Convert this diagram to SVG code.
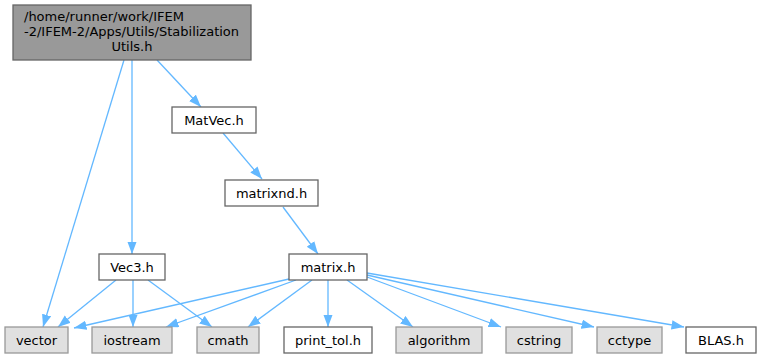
<svg xmlns="http://www.w3.org/2000/svg" width="760" height="359" viewBox="0 0 760 359">
<style>
text{font-family:"DejaVu Sans",sans-serif;font-size:13px;fill:#000}
.c{text-anchor:middle}
.top{fill:#999999;stroke:#666666;stroke-width:1.3}
.w{fill:#ffffff;stroke:#666666;stroke-width:1.3}
.g{fill:#e0e0e0;stroke:#999999;stroke-width:1.3}
.e{stroke:#63b8ff;stroke-width:1.3;fill:none;marker-end:url(#a)}
</style>
<defs>
<marker id="a" markerUnits="userSpaceOnUse" markerWidth="14" markerHeight="11" refX="12.5" refY="4.7" orient="auto">
<path d="M0,0 L12.5,4.7 L0,9.4 z" fill="#63b8ff" stroke="none"/>
</marker>
</defs>
<rect width="760" height="359" fill="#ffffff"/>
<g id="edges">
<line class="e" x1="124" y1="60" x2="43" y2="327"/>
<line class="e" x1="132" y1="60" x2="132" y2="254"/>
<line class="e" x1="157" y1="60" x2="201" y2="107"/>
<line class="e" x1="223" y1="133" x2="262" y2="179"/>
<line class="e" x1="283" y1="207" x2="318" y2="254"/>
<line class="e" x1="116" y1="280" x2="58" y2="327"/>
<line class="e" x1="133" y1="280" x2="133" y2="327"/>
<line class="e" x1="148" y1="280" x2="212" y2="327"/>
<line class="e" x1="289" y1="279" x2="74" y2="328"/>
<line class="e" x1="296" y1="280" x2="166" y2="327"/>
<line class="e" x1="312" y1="280" x2="248" y2="327"/>
<line class="e" x1="328" y1="280" x2="328" y2="327"/>
<line class="e" x1="347" y1="280" x2="413" y2="327"/>
<line class="e" x1="367" y1="277" x2="501" y2="327"/>
<line class="e" x1="367" y1="275" x2="594" y2="327"/>
<line class="e" x1="367" y1="273" x2="684" y2="327"/>
</g>
<g id="node-top">
<rect class="top" x="13" y="5" width="238" height="55"/>
<text x="24" y="21">/home/runner/work/IFEM</text>
<text x="24" y="36">-2/IFEM-2/Apps/Utils/Stabilization</text>
<text class="c" x="132" y="51">Utils.h</text>
</g>
<g id="node-matvec">
<rect class="w" x="172" y="107" width="84" height="26"/>
<text class="c" x="214" y="124.5">MatVec.h</text>
</g>
<g id="node-matrixnd">
<rect class="w" x="225" y="180" width="93" height="26"/>
<text class="c" x="271.5" y="197.5">matrixnd.h</text>
</g>
<g id="node-vec3">
<rect class="w" x="99" y="254" width="66" height="26"/>
<text class="c" x="132" y="271.5">Vec3.h</text>
</g>
<g id="node-matrix">
<rect class="w" x="289" y="254" width="78" height="26"/>
<text class="c" x="328" y="271.5">matrix.h</text>
</g>
<g id="node-vector">
<rect class="g" x="5" y="327" width="63" height="26"/>
<text class="c" x="36.5" y="344.5">vector</text>
</g>
<g id="node-iostream">
<rect class="g" x="92" y="327" width="80" height="26"/>
<text class="c" x="132" y="344.5">iostream</text>
</g>
<g id="node-cmath">
<rect class="g" x="197" y="327" width="62" height="26"/>
<text class="c" x="228" y="344.5">cmath</text>
</g>
<g id="node-printtol">
<rect class="w" x="284" y="327" width="88" height="26"/>
<text class="c" x="328" y="344.5">print_tol.h</text>
</g>
<g id="node-algorithm">
<rect class="g" x="396" y="327" width="86" height="26"/>
<text class="c" x="439" y="344.5">algorithm</text>
</g>
<g id="node-cstring">
<rect class="g" x="506" y="327" width="66" height="26"/>
<text class="c" x="539" y="344.5">cstring</text>
</g>
<g id="node-cctype">
<rect class="g" x="597" y="327" width="65" height="26"/>
<text class="c" x="629.5" y="344.5">cctype</text>
</g>
<g id="node-blas">
<rect class="w" x="686" y="327" width="70" height="26"/>
<text class="c" x="721" y="344.5">BLAS.h</text>
</g>
</svg>
